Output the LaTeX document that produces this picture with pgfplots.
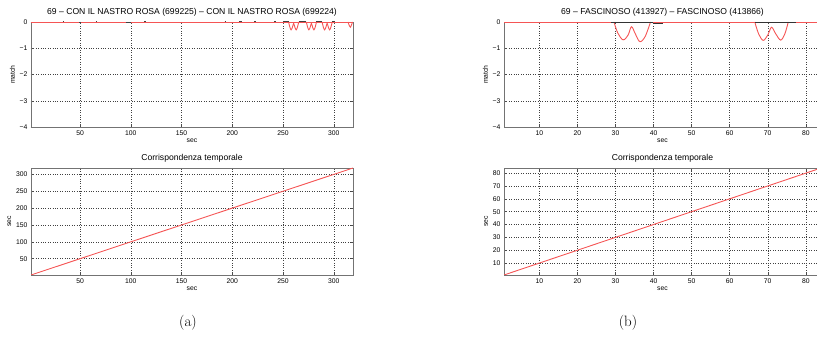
\documentclass[border=0pt]{standalone}
\usepackage{pgfplots}
\pgfplotsset{compat=1.18}
\usepackage{fontspec}
\newfontfamily\hv{Liberation Sans}
\definecolor{mred}{RGB}{245,85,85}
\definecolor{mframe}{RGB}{115,115,115}
\pgfplotsset{mstyle/.style={scale only axis, anchor=south west,
  axis line style={mframe, line width=0.9pt},
  tick align=inside, major tick length=2.5pt,
  tick style={black!70, line width=0.4pt},
  grid=major, major grid style={dotted, black!75, line width=0.45pt},
  tick label style={font=\hv\fontsize{6.8}{8}\selectfont},
  /pgf/number format/assume math mode=true,
  label style={font=\hv\fontsize{6.8}{8}\selectfont},
  title style={font=\hv\fontsize{8.6}{10}\selectfont, yshift=-4pt},
  xlabel style={yshift=3pt}, ylabel style={yshift=-2pt},
  unbounded coords=jump}}
\begin{document}
\begin{tikzpicture}
\path[use as bounding box] (0pt,0pt) rectangle (817pt,348pt);
% (a) top
\begin{axis}[mstyle, at={(31pt,221pt)}, width=322pt, height=105pt,
  xmin=1.6, xmax=319, ymin=-4, ymax=0,
  xtick={50,100,150,200,250,300}, ytick={-4,-3,-2,-1,0},
  yticklabels={−4,−3,−2,−1,0},
  xlabel={sec}, ylabel={match},
  title={69 – CON IL NASTRO ROSA (699225) – CON IL NASTRO ROSA (699224)}]
\addplot[mred, line width=0.9pt] coordinates {(1.6,0) (319,0)};
\addplot[mred, line width=0.9pt, smooth, tension=0.5] coordinates {(255.5,0) (256.8,-0.2) (258,-0.3) (259.3,-0.2) (260.5,-0.05) (261.7,-0.2) (263,-0.3) (264.2,-0.2) (265.5,0)};
\addplot[mred, line width=0.9pt, smooth, tension=0.5] coordinates {(273,0) (274.3,-0.2) (275.5,-0.3) (276.8,-0.2) (278,-0.05) (279.2,-0.2) (280.5,-0.3) (281.7,-0.2) (283,0)};
\addplot[mred, line width=0.9pt, smooth, tension=0.5] coordinates {(288.5,0) (289.8,-0.2) (291,-0.3) (292.3,-0.2) (293.5,-0.05) (294.7,-0.2) (296,-0.3) (297.2,-0.2) (298.5,0)};
\addplot[mred, line width=0.9pt, smooth, tension=0.5] coordinates {(314,0) (315.3,-0.13) (316.5,-0.2) (317.6,-0.1) (318.6,0)};
\addplot[black!75, line width=1pt] coordinates {(33,0) (34.5,0) (nan,nan) (49.3,-0.03) (50.8,-0.03) (nan,nan) (65.5,0) (67,0) (nan,nan) (95,-0.02) (100,-0.02) (nan,nan) (113,0) (114.8,0) (nan,nan) (192.5,0) (194,0) (nan,nan) (206.5,0) (210,0) (nan,nan) (221.5,0) (223,0) (nan,nan) (241.5,0) (243,0) (nan,nan) (250,0) (255.5,0) (nan,nan) (265.5,0) (273,0) (nan,nan) (283,0) (288.5,0) (nan,nan) (298.5,0) (301,0)};
\end{axis}
% (a) bottom
\begin{axis}[mstyle, at={(31pt,73pt)}, width=322pt, height=107pt,
  xmin=1.6, xmax=319, ymin=1.6, ymax=319,
  xtick={50,100,150,200,250,300}, ytick={50,100,150,200,250,300},
  xlabel={sec}, ylabel={sec},
  title={Corrispondenza temporale}]
\addplot[mred, line width=0.9pt] coordinates {(1.6,1.6) (319,319)};
\end{axis}
% (b) top
\begin{axis}[mstyle, at={(504pt,221pt)}, width=317pt, height=105pt,
  xmin=0.7, xmax=84, ymin=-4, ymax=0,
  xtick={10,20,30,40,50,60,70,80}, ytick={-4,-3,-2,-1,0},
  yticklabels={−4,−3,−2,−1,0},
  xlabel={sec}, ylabel={match},
  title={69 – FASCINOSO (413927) – FASCINOSO (413866)}]
\addplot[mred, line width=0.9pt] coordinates {(0.7,0) (84,0)};
\addplot[mred, line width=0.9pt, smooth, tension=0.55] coordinates {(29.6,0) (30.6,-0.42) (32.0,-0.68) (33.3,-0.5) (34.2,-0.18) (35.2,-0.45) (36.4,-0.75) (37.8,-0.55) (39.2,0)};
\addplot[mred, line width=0.9pt, smooth, tension=0.55] coordinates {(66.6,0) (67.6,-0.45) (68.8,-0.7) (70.0,-0.5) (71.0,-0.2) (72.1,-0.45) (73.4,-0.69) (74.5,-0.45) (75.4,0)};
\addplot[black!80, line width=0.8pt] coordinates {(28.7,0) (39.8,0) (nan,nan) (39.8,-0.04) (42.5,-0.04) (nan,nan) (66.6,0) (77.4,0)};
\end{axis}
% (b) bottom
\begin{axis}[mstyle, at={(504pt,73pt)}, width=317pt, height=107pt,
  xmin=0.7, xmax=84, ymin=0.7, ymax=84,
  xtick={10,20,30,40,50,60,70,80}, ytick={10,20,30,40,50,60,70,80},
  xlabel={sec}, ylabel={sec},
  title={Corrispondenza temporale}]
\addplot[mred, line width=0.9pt] coordinates {(0.7,0.7) (84,84)};
\end{axis}
\node[font=\fontsize{15}{18}\selectfont] at (188pt,25pt) {(a)};
\node[font=\fontsize{15}{18}\selectfont] at (628pt,25pt) {(b)};
\end{tikzpicture}
\end{document}
